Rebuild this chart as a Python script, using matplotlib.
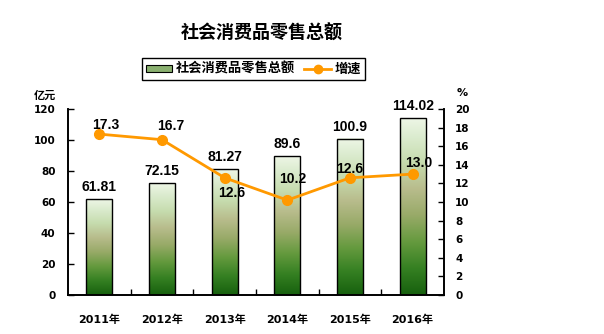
import numpy as np
import matplotlib
matplotlib.use('Agg')
import matplotlib.pyplot as plt
from matplotlib.colors import LinearSegmentedColormap
from matplotlib.patches import Patch
from matplotlib.lines import Line2D

years = ['2011年', '2012年', '2013年', '2014年', '2015年', '2016年']
sales = [61.81, 72.15, 81.27, 89.6, 100.9, 114.02]
sales_labels = ['61.81', '72.15', '81.27', '89.6', '100.9', '114.02']
growth = [17.3, 16.7, 12.6, 10.2, 12.6, 13.0]
growth_labels = ['17.3', '16.7', '12.6', '10.2', '12.6', '13.0']
# pixel offsets of the growth labels from their markers
growth_offsets = [(6, 9), (9, 14), (7, -15), (5, 21), (0, 9), (6, 11)]

CJK = ['Noto Sans CJK SC', 'DejaVu Sans']
NUM = ['Liberation Sans', 'Noto Sans CJK SC']
ORANGE = '#FF9900'

fig = plt.figure(figsize=(6.04, 3.34), dpi=100)
ax = fig.add_axes([68 / 604, 39 / 334, 376 / 604, 186 / 334])
ax2 = ax.twinx()

green = LinearSegmentedColormap.from_list('bar_green', [
    (0.0, '#17600e'), (0.15, '#358022'), (0.3, '#659a3e'),
    (0.45, '#98aa68'), (0.6, '#b8bc8c'), (0.75, '#c6dcae'),
    (0.9, '#dcecd0'), (1.0, '#eef6e6')])
grad = np.linspace(0, 1, 256).reshape(-1, 1)

x = np.arange(len(years))
width = 0.42
for xi, v in zip(x, sales):
    ax.imshow(grad, extent=[xi - width / 2, xi + width / 2, 0, v], origin='lower',
              aspect='auto', cmap=green, zorder=2, interpolation='bilinear')
ax.bar(x, sales, width=width, facecolor='none', edgecolor='black', linewidth=1.0, zorder=3)
for xi, v, s in zip(x, sales, sales_labels):
    ax.annotate(s, (xi, v), xytext=(0, 5), textcoords='offset pixels',
                ha='center', va='bottom', fontsize=10, fontweight='bold',
                family=NUM, zorder=5)

ax.set_xlim(-0.5, len(years) - 0.5)
ax.set_ylim(0, 120)
ax.set_yticks(range(0, 121, 20))
ax.set_xticks(x)
ax.set_xticklabels(years, fontsize=8, fontweight='bold', family=['DejaVu Sans', 'Noto Sans CJK SC'])
ax.set_xticks(np.arange(0.5, len(years) - 1, 1), minor=True)
ax.tick_params(axis='x', which='major', length=0, pad=14)
ax.tick_params(axis='x', which='minor', direction='in', length=4, width=1)
ax.tick_params(axis='y', direction='in', length=4, width=1, pad=9)
for lab in ax.get_yticklabels():
    lab.set_fontsize(7.5)
    lab.set_fontweight('bold')

ax2.plot(x, growth, color=ORANGE, linewidth=2, marker='o', markersize=7, zorder=4)
for xi, v, s, (dx, dy) in zip(x, growth, growth_labels, growth_offsets):
    ax2.annotate(s, (xi, v), xytext=(dx, dy), textcoords='offset pixels',
                 ha='center', va='center', fontsize=10, fontweight='bold',
                 family=NUM, zorder=5)
ax2.set_ylim(0, 20)
ax2.set_yticks(range(0, 21, 2))
ax2.tick_params(axis='y', direction='in', length=4, width=1, pad=8)
for lab in ax2.get_yticklabels():
    lab.set_fontsize(7.5)
    lab.set_fontweight('bold')

for a in (ax, ax2):
    a.spines['top'].set_visible(False)
    for side in ('left', 'right', 'bottom'):
        a.spines[side].set_linewidth(1.2)

fig.text(262 / 604, 1 - 33 / 334, '社会消费品零售总额', ha='center', va='center',
         fontsize=13, fontweight='heavy', family=CJK)
fig.text(45 / 604, 1 - 95 / 334, '亿元', ha='center', va='center',
         fontsize=8, fontweight='bold', family=CJK)
fig.text(462 / 604, 1 - 93 / 334, '%', ha='center', va='center',
         fontsize=8, fontweight='bold', family=['DejaVu Sans'])

handles = [Patch(facecolor='#8ab070', edgecolor='black', linewidth=0.8),
           Line2D([], [], color=ORANGE, linewidth=2, marker='o', markersize=6)]
leg = fig.legend(handles, ['社会消费品零售总额', '增速'], loc='center',
                 bbox_to_anchor=(253.5 / 604, 1 - 69 / 334), ncol=2,
                 fancybox=False, edgecolor='black', framealpha=1,
                 handlelength=2.0, handleheight=0.5, handletextpad=0.3,
                 columnspacing=0.7, borderpad=0.3, borderaxespad=0,
                 prop={'family': CJK, 'weight': 'bold', 'size': 9.5})
leg.get_frame().set_linewidth(1.0)

fig.savefig('out.png', dpi=100)
